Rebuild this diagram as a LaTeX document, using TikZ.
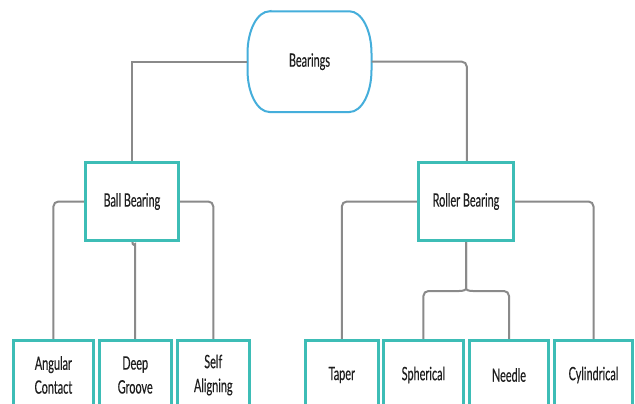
\documentclass[tikz,border=0pt]{standalone}
\usepackage{fontspec}
\newfontfamily\lato[FakeStretch=0.59,FakeBold=0.3]{Lato}
\definecolor{tealc}{HTML}{3DBDB6}
\definecolor{bluec}{HTML}{45AEDB}
\definecolor{linec}{HTML}{8A8A8A}
\definecolor{textc}{HTML}{1E1E1E}
\begin{document}
\begin{tikzpicture}[x=1bp,y=1bp,
  box/.style={draw=tealc,line width=2bp,fill=white,rectangle,inner sep=0pt,
    align=center,font=\lato\fontsize{18.5}{24}\selectfont,text=textc},
  conn/.style={draw=linec,line width=2bp,rounded corners=5bp}]
\useasboundingbox (0,0) rectangle (635,403);
\clip (0,0) rectangle (635,403);
\fill[white] (0,0) rectangle (635,403);
% root
\node[rectangle,inner sep=0pt,minimum width=124bp,minimum height=100.7bp,
  font=\lato\fontsize{18.5}{24}\selectfont,text=textc] (root) at (309.5,341.35) {Bearings};
\draw[bluec,line width=2bp] (269.5,391.7) -- (349.5,391.7)
  arc[start angle=90,end angle=0,x radius=22bp,y radius=42bp] -- (371.5,333)
  arc[start angle=0,end angle=-90,x radius=22bp,y radius=42bp] -- (269.5,291)
  arc[start angle=-90,end angle=-180,x radius=22bp,y radius=42bp] -- (247.5,349.7)
  arc[start angle=180,end angle=90,x radius=22bp,y radius=42bp] -- cycle;
% second level
\node[box,minimum width=92.8bp,minimum height=77bp] (ball) at (131.9,201.5) {Ball Bearing};
\node[box,minimum width=94bp,minimum height=77bp] (roll) at (466,201.5) {Roller Bearing};
% leaves
\node[box,minimum width=78.4bp,minimum height=68bp] (ang) at (53.4,28) {Angular\\Contact};
\node[box,minimum width=71bp,minimum height=68bp] (deep) at (135.2,28) {Deep\\Groove};
\node[box,minimum width=71.4bp,minimum height=68bp] (self) at (213.3,28) {Self\\Aligning};
\node[box,minimum width=72.3bp,minimum height=68bp] (taper) at (341.8,28) {Taper};
\node[box,minimum width=78.8bp,minimum height=68bp] (sph) at (423.4,28) {Spherical};
\node[box,minimum width=78.5bp,minimum height=68bp] (need) at (509,28) {Needle};
\node[box,minimum width=77bp,minimum height=68bp] (cyl) at (593.5,28) {Cylindrical};
% connectors
\coordinate (rl) at (131.5,341.35);
\coordinate (rr) at (466.8,341.35);
\draw[conn,rounded corners=0pt] (root.west) -- (rl) -- (rl |- ball.north);
\draw[conn] (root.east) -- (rr) -- (rr |- roll.north);
\draw[conn] (ball.west) -| (ang.north);
\draw[conn] (ball.east) -| (self.north);
\coordinate (dg) at (135.2,154);
\draw[conn] ([xshift=0.4bp]ball.south) .. controls +(0,-6) and +(0,5) .. (dg) -- (deep.north);
\draw[conn] (roll.west) -| (taper.north);
\draw[conn] (roll.east) -| (cyl.north);
\coordinate (bt) at (466,112);
\coordinate (bl) at (459,112);
\coordinate (br) at (473,112);
\draw[conn] (roll.south) -- (466,119) .. controls (466,113.5) and (464,112) .. (bl);
\draw[conn] (roll.south) -- (466,119) .. controls (466,113.5) and (468,112) .. (br);
\draw[conn] (bl) -- (sph.north |- bt) -- (sph.north);
\draw[conn] (br) -- (need.north |- bt) -- (need.north);
% redraw node borders on top
\foreach \n in {ball,roll,ang,deep,self,taper,sph,need,cyl}{
  \draw[tealc,line width=2bp] (\n.south west) rectangle (\n.north east);}
\end{tikzpicture}
\end{document}
